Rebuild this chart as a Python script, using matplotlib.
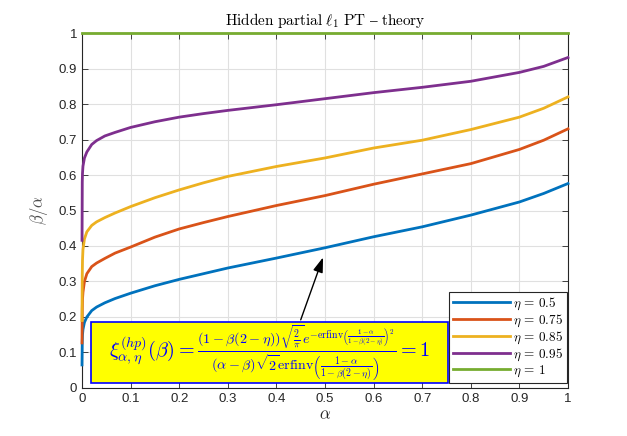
import matplotlib.pyplot as plt
from matplotlib.patches import Rectangle
from matplotlib.ticker import FormatStrFormatter
import numpy as np

plt.rcParams['mathtext.fontset'] = 'cm'
plt.rcParams['font.family'] = ['Liberation Sans', 'DejaVu Sans']

# values (beta/alpha against alpha)
alpha = [0, 0.0005, 0.001, 0.002, 0.005, 0.01, 0.02, 0.03, 0.047, 0.068, 0.1, 0.15,
         0.2, 0.25, 0.3, 0.4, 0.5, 0.6, 0.7, 0.8, 0.9, 0.95, 1.0]
eta_05 = [0.065, 0.13, 0.15, 0.165, 0.185, 0.2, 0.218, 0.228, 0.24, 0.252, 0.267, 0.288,
          0.306, 0.322, 0.338, 0.366, 0.395, 0.426, 0.454, 0.487, 0.524, 0.548, 0.576]
eta_075 = [0.127, 0.22, 0.25, 0.27, 0.3, 0.322, 0.342, 0.352, 0.365, 0.38, 0.397, 0.425,
           0.448, 0.466, 0.483, 0.514, 0.542, 0.574, 0.603, 0.632, 0.672, 0.698, 0.73]
eta_085 = [0.19, 0.32, 0.36, 0.39, 0.42, 0.44, 0.458, 0.468, 0.48, 0.493, 0.511, 0.536,
           0.558, 0.578, 0.596, 0.624, 0.648, 0.676, 0.698, 0.728, 0.763, 0.788, 0.82]
eta_095 = [0.416, 0.58, 0.605, 0.625, 0.648, 0.665, 0.686, 0.697, 0.71, 0.72, 0.734, 0.75,
           0.763, 0.773, 0.782, 0.798, 0.815, 0.832, 0.847, 0.864, 0.889, 0.906, 0.931]
eta_1 = [1.0] * len(alpha)

series = [eta_05, eta_075, eta_085, eta_095, eta_1]
labels = [r'$\eta\,=\,0.5$', r'$\eta\,=\,0.75$', r'$\eta\,=\,0.85$', r'$\eta\,=\,0.95$',
          r'$\eta\,=\,1$']
colors = [(0, 0.447, 0.741), (0.85, 0.325, 0.098), (0.929, 0.694, 0.125),
          (0.494, 0.184, 0.556), (0.466, 0.674, 0.188)]

fig = plt.figure(figsize=(6.27, 4.36), dpi=100)
ax = fig.add_axes([0.1308, 0.1101, 0.7751, 0.8142])

for ys, lab, c in zip(series, labels, colors):
    ax.plot(alpha, ys, color=c, lw=2.0, label=lab, clip_on=False, zorder=3,
            solid_joinstyle='round')

ax.set_xlim(0, 1)
ax.set_ylim(0, 1)
ax.set_xticks(np.arange(0, 1.01, 0.1))
ax.set_yticks(np.arange(0, 1.01, 0.1))
ax.xaxis.set_major_formatter(FormatStrFormatter('%g'))
ax.yaxis.set_major_formatter(FormatStrFormatter('%g'))
ax.tick_params(direction='in', top=True, right=True, length=4, width=0.6,
               colors=(0.15, 0.15, 0.15), labelsize=9.5)
ax.grid(True, color=(0.88, 0.88, 0.88), lw=0.8)
ax.set_axisbelow(True)
for s in ax.spines.values():
    s.set_color((0.15, 0.15, 0.15))
    s.set_linewidth(0.8)

ax.set_title(r'$\mathrm{Hidden\ partial\ }\ell_1\mathrm{\ PT\ –\ theory}$', fontsize=11, pad=6)
ax.set_xlabel(r'$\alpha$', fontsize=12, labelpad=2, color=(0.15, 0.15, 0.15))
ax.set_ylabel(r'$\beta/\alpha$', fontsize=12, labelpad=6, color=(0.3, 0.3, 0.3))

leg = ax.legend(loc='lower right', bbox_to_anchor=(0.998, 0.014), fontsize=9.5,
                fancybox=False, edgecolor=(0.15, 0.15, 0.15), framealpha=1,
                borderaxespad=0, handlelength=4.3, handletextpad=0.25,
                labelspacing=0.05, borderpad=0.3)
leg.get_frame().set_linewidth(0.8)
leg.set_zorder(5)

# formula box
ax.add_patch(Rectangle((0.0185, 0.014), 0.7345, 0.172, facecolor='yellow',
                       edgecolor='blue', lw=1.2, zorder=4))
formula = (r'$\xi_{\alpha,\eta}^{(hp)}(\beta) = '
           r'\frac{(1-\beta(2-\eta))\sqrt{\frac{2}{\pi}}e^{-\mathrm{erfinv}'
           r'\left(\frac{1-\alpha}{1-\beta(2-\eta)}\right)^2}}'
           r'{(\alpha-\beta)\sqrt{2}\mathrm{erfinv}\left(\frac{1-\alpha}{1-\beta(2-\eta)}\right)} = 1$')
ax.text(0.386, 0.098, formula, color='blue', fontsize=14.5, ha='center', va='center', zorder=6)

ax.annotate('', xy=(0.496, 0.368), xytext=(0.45, 0.192),
            arrowprops=dict(arrowstyle='-|>,head_length=0.9,head_width=0.3', color='black',
                            lw=1.0, shrinkA=0, shrinkB=0), zorder=6)

fig.savefig('out.png', dpi=100)
